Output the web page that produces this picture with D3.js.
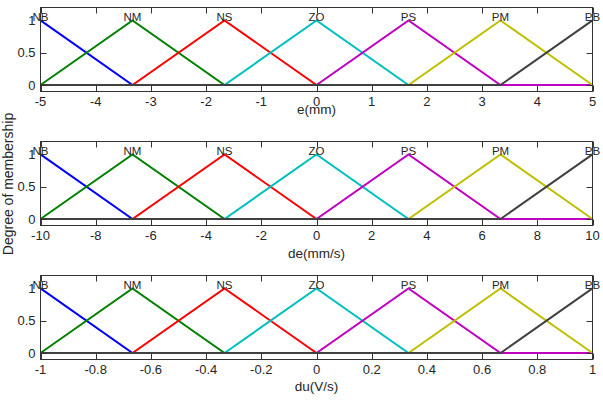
<!DOCTYPE html>
<html><head><meta charset="utf-8">
<script src="https://cdn.jsdelivr.net/npm/d3@7"></script>
<style>body{margin:0;background:#fff}svg{display:block}text{font-family:"Liberation Sans",Arial,sans-serif;fill:#262626}</style>
</head><body><svg id="c" width="603" height="400"></svg>
<script>
const mfNames = ["NB","NM","NS","ZO","PS","PM","PB"];
const mfColors = ["#0000ff","#008000","#ff0000","#00bfbf","#bf00bf","#bfbf00","#404040"];
// trimf parameters [a, b, c] per membership function
const eParams = [[-6.667,-5,-3.333],[-5,-3.333,-1.667],[-3.333,-1.667,0],[-1.667,0,1.667],[0,1.667,3.333],[1.667,3.333,5],[3.333,5,6.667]];
const deParams = [[-13.33,-10,-6.667],[-10,-6.667,-3.333],[-6.667,-3.333,0],[-3.333,0,3.333],[0,3.333,6.667],[3.333,6.667,10],[6.667,10,13.33]];
const duParams = [[-1.333,-1,-0.6667],[-1,-0.6667,-0.3333],[-0.6667,-0.3333,0],[-0.3333,0,0.3333],[0,0.3333,0.6667],[0.3333,0.6667,1],[0.6667,1,1.333]];
const eRange = [-5,5], deRange = [-10,10], duRange = [-1,1];
const eTicks = [-5,-4,-3,-2,-1,0,1,2,3,4,5];
const deTicks = [-10,-8,-6,-4,-2,0,2,4,6,8,10];
const duTicks = [-1,-0.8,-0.6,-0.4,-0.2,0,0.2,0.4,0.6,0.8,1];
const yTicks = [0,0.5,1];
const xLabels = ["e(mm)","de(mm/s)","du(V/s)"];

const svg = d3.select("#c");
const L = 40.5, R = 592.5, H = 84;
const tops = [7.5,141.5,275.5];
const labelY = [113.5,257.5,391];
const panels = [
  {params:eParams, range:eRange, ticks:eTicks, label:xLabels[0]},
  {params:deParams, range:deRange, ticks:deTicks, label:xLabels[1]},
  {params:duParams, range:duRange, ticks:duTicks, label:xLabels[2]}
];
function trimf(x,p){const [a,b,c]=p; if(x<=a||x>=c) return 0; return x<=b?(x-a)/(b-a):(c-x)/(c-b);}
panels.forEach((pn,i)=>{
  const top = tops[i], bot = top+H;
  const x = d3.scaleLinear().domain(pn.range).range([L,R]);
  const y = d3.scaleLinear().domain([-0.1,1.2]).range([bot,top]);
  const g = svg.append("g");
  const line = d3.line().x(d=>x(d[0])).y(d=>y(d[1]));
  pn.params.forEach((p,k)=>{
    const xs = [pn.range[0],p[0],p[1],p[2],pn.range[1]].filter(v=>v>=pn.range[0]&&v<=pn.range[1]).sort((a,b)=>a-b);
    const pts = xs.map(v=>[v,trimf(v,p)]);
    g.append("path").attr("d",line(pts)).attr("fill","none").attr("stroke",mfColors[k]).attr("stroke-width",2);
  });
  pn.params.forEach((p,k)=>{
    g.append("text").attr("x",x(p[1])).attr("y",y(1)+1).attr("text-anchor","middle").attr("font-size",11.5).text(mfNames[k]);
  });
  g.append("rect").attr("x",L).attr("y",top).attr("width",R-L).attr("height",H).attr("fill","none").attr("stroke","#333").attr("stroke-width",1);
  pn.ticks.forEach(t=>{
    const xx = Math.round(x(t))+0.5;
    g.append("line").attr("x1",xx).attr("x2",xx).attr("y1",bot).attr("y2",bot-6).attr("stroke","#333");
    g.append("line").attr("x1",xx).attr("x2",xx).attr("y1",top).attr("y2",top+6).attr("stroke","#333");
    g.append("text").attr("x",x(t)).attr("y",bot+14.5).attr("text-anchor","middle").attr("font-size",13).text(String(t));
  });
  yTicks.forEach(t=>{
    const yy = Math.round(y(t))+0.5;
    g.append("line").attr("x1",L).attr("x2",L+6).attr("y1",yy).attr("y2",yy).attr("stroke","#333");
    g.append("line").attr("x1",R).attr("x2",R-6).attr("y1",yy).attr("y2",yy).attr("stroke","#333");
    g.append("text").attr("x",L-5).attr("y",y(t)+4.5).attr("text-anchor","end").attr("font-size",13).text(String(t));
  });
  g.append("text").attr("x",(L+R)/2).attr("y",labelY[i]).attr("text-anchor","middle").attr("font-size",13.5).text(pn.label);
});
svg.append("text").attr("transform","translate(13,184) rotate(-90)").attr("text-anchor","middle").attr("font-size",14).text("Degree of membership");
</script></body></html>
